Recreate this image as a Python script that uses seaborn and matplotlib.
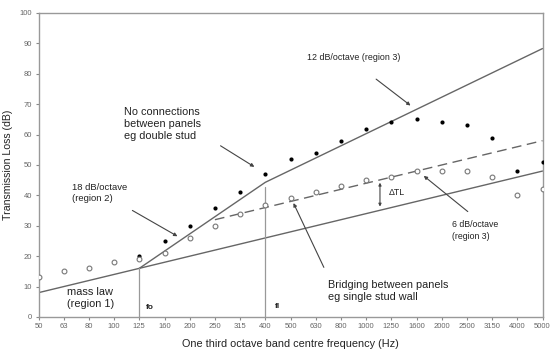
import matplotlib
matplotlib.use("Agg")
import matplotlib.pyplot as plt
import seaborn as sns
import numpy as np
import pandas as pd

freqs = ["50", "63", "80", "100", "125", "160", "200", "250", "315", "400", "500",
         "630", "800", "1000", "1250", "1600", "2000", "2500", "3150", "4000", "5000"]
double_stud = [None, None, None, None, 20, 25, 30, 36, 41, 47, 52,
               54, 58, 62, 64, 65, 64, 63, 59, 48, 51]
single_stud = [13, 15, 16, 18, 19, 21, 26, 30, 34, 37, 39,
               41, 43, 45, 46, 48, 48, 48, 46, 40, 42]
# model lines: (frequency label, TL)
mass_law_f = ["50", "5000"]
mass_law_tl = [8, 48]
decoupled_f = ["125", "400", "5000"]
decoupled_tl = [16, 44.3, 88.3]
bridged_f = ["250", "5000"]
bridged_tl = [32, 58]

idx = {f: i for i, f in enumerate(freqs)}

sns.set_theme(style="white")
plt.rcParams['font.family'] = ['Liberation Sans', 'DejaVu Sans']

fig = plt.figure(figsize=(5.5, 3.51), dpi=100)
ax = fig.add_axes([0.07, 0.0969, 0.9164, 0.8661])

df_d = pd.DataFrame({"x": range(len(freqs)), "tl": double_stud}).dropna()
df_s = pd.DataFrame({"x": range(len(freqs)), "tl": single_stud})

line_c = "#666666"
sns.lineplot(x=[idx[f] for f in mass_law_f], y=mass_law_tl, ax=ax, color=line_c, lw=1.0)
sns.lineplot(x=[idx[f] for f in decoupled_f], y=decoupled_tl, ax=ax, color=line_c, lw=1.0)
sns.lineplot(x=[idx[f] for f in bridged_f], y=bridged_tl, ax=ax, color=line_c, lw=1.0,
             linestyle=(0, (7, 4)))

sns.scatterplot(data=df_d, x="x", y="tl", ax=ax, color="black", s=9, marker="o",
                edgecolor="black", linewidth=0, zorder=5)
sns.scatterplot(data=df_s, x="x", y="tl", ax=ax, s=12, marker="o",
                facecolor="white", edgecolor="#777777", linewidth=0.8, zorder=5)

# vertical markers fo, fl
ax.plot([idx["125"], idx["125"]], [0, 16], color="#999999", lw=0.9)
ax.plot([idx["400"], idx["400"]], [0, 42.8], color="#999999", lw=0.9)

ax.set_xlim(0, 20)
ax.set_ylim(0, 100)
ax.set_xticks(range(len(freqs)))
ax.set_xticklabels(freqs)
ax.set_yticks(range(0, 101, 10))
ax.tick_params(axis="both", labelsize=5.5, labelcolor="#666666", length=2.5,
               width=0.8, color="#888888", direction="out", pad=2, bottom=True, left=True)
for s in ax.spines.values():
    s.set_color("#999999")
    s.set_linewidth(1.0)

ax.set_xlabel("One third octave band centre frequency (Hz)", fontsize=7.8, color="#222222", labelpad=6)
ax.set_ylabel("Transmission Loss (dB)", fontsize=7.6, color="#222222", labelpad=5)

tc = "#222222"
arr = dict(arrowstyle="-|>", color="#444444", lw=0.8, mutation_scale=5)

ax.text(10.65, 85.3, "12 dB/octave (region 3)", fontsize=6.4, color=tc, va="center")
ax.annotate("", xy=(14.85, 69.0), xytext=(13.31, 78.8), arrowprops=arr)

ax.text(3.39, 69.2, "No connections\nbetween panels\neg double stud", fontsize=7.8,
        color=tc, va="top", linespacing=1.25, ha="left")
ax.annotate("", xy=(8.66, 48.9), xytext=(7.13, 56.8), arrowprops=arr)

ax.text(1.32, 44.0, "18 dB/octave\n(region 2)", fontsize=6.8, color=tc, va="top", linespacing=1.3)
ax.annotate("", xy=(5.61, 26.1), xytext=(3.63, 35.5), arrowprops=arr)

ax.text(1.12, 10.0, "mass law\n(region 1)", fontsize=7.9, color=tc, va="top", linespacing=1.3)

ax.text(4.25, 3.1, "fo", fontsize=6, color=tc, va="center", fontweight="bold")
ax.text(9.4, 3.4, "fl", fontsize=6, color=tc, va="center", fontweight="bold")

ax.text(11.5, 12.2, "Bridging between panels\neg single stud wall", fontsize=7.8,
        color=tc, va="top", linespacing=1.3)
ax.annotate("", xy=(10.07, 38.3), xytext=(11.37, 15.5), arrowprops=arr)

ax.text(16.4, 31.8, "6 dB/octave\n(region 3)", fontsize=6.3, color=tc, va="top", linespacing=1.45)
ax.annotate("", xy=(15.2, 47.0), xytext=(17.12, 34.1), arrowprops=arr)

ax.annotate("", xy=(13.55, 45.1), xytext=(13.55, 35.4),
            arrowprops=dict(arrowstyle="<|-|>", color="#444444", lw=0.8, mutation_scale=4))
ax.text(13.9, 41.0, "\u0394TL", fontsize=6.3, color=tc, va="center")

fig.savefig("out.png", dpi=100)
